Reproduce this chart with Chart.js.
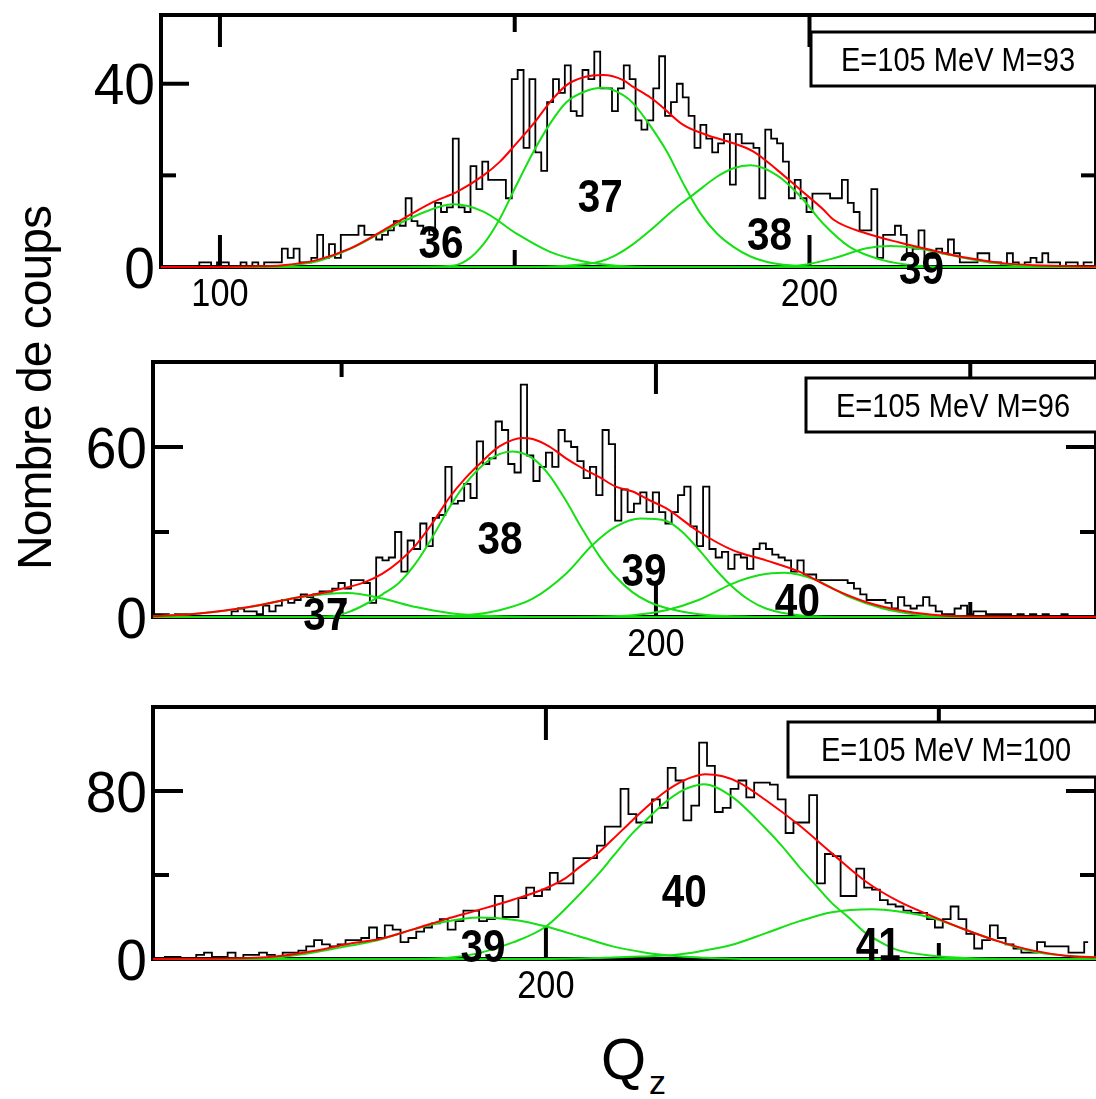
<!DOCTYPE html>
<html>
<head>
<meta charset="utf-8">
<script src="https://cdn.jsdelivr.net/npm/chart.js@4.4.1/dist/chart.umd.min.js"></script>
<style>
  html, body { margin: 0; padding: 0; background: #fff; }
  body { width: 1096px; height: 1099px; position: relative; overflow: hidden;
         font-family: "Liberation Sans", Arial, sans-serif; color: #000; }
  canvas { position: absolute; left: 0; }
  #ytitle { position: absolute; left: -165px; top: 364px; width: 400px; height: 48px;
            line-height: 48px; font-size: 48px; text-align: center; letter-spacing: -1px;
            transform: rotate(-90deg); white-space: nowrap; }
  #qz { position: absolute; left: 601px; top: 1030px; font-size: 58px; line-height: 58px; }
  #qz sub { position: absolute; left: 48px; top: 35px; font-size: 34px; line-height: 34px; }
</style>
</head>
<body>
<canvas id="c1" width="1096" height="330" style="top:0px"></canvas>
<canvas id="c2" width="1096" height="340" style="top:340px"></canvas>
<canvas id="c3" width="1096" height="340" style="top:680px"></canvas>
<div id="ytitle">Nombre de coups</div>
<div id="qz">Q<sub>z</sub></div>
<script>
// --- data -----------------------------------------------------------------
// histogram counts, one bin per unit of Qz, first bin centred on the start value
const q1Start = 90;
const counts1 = [
  0,0,0,0,0,0,0,1,1,0,
  1,1,0,0,1,0,1,0,1,1,
  1,4,2,4,1,1,2,7,2,5,
  2,7,7,7,9,7,7,6,7,8,
  10,9,15,10,9,8,7,14,12,13,
  28,13,12,22,17,23,19,19,19,15,
  41,43,26,41,25,21,36,41,38,44,
  34,33,43,41,47,39,39,34,39,44,
  41,32,30,32,39,46,33,36,40,37,
  33,26,31,28,25,27,29,18,29,27,
  27,26,15,30,28,27,23,15,19,15,
  12,16,16,16,15,15,19,14,12,8,
  8,17,2,7,7,9,7,3,4,8,
  2,2,4,3,6,3,1,1,1,3,
  3,1,1,0,3,1,0,1,2,1,
  3,1,1,0,1,1,0,1,1
];
const q2Start = 120;
const counts2 = [
  1,1,1,0,1,1,0,0,0,0,
  0,0,0,2,3,2,2,1,4,2,
  4,6,5,6,8,7,8,9,9,10,
  12,10,13,13,12,5,21,20,21,30,
  16,27,24,33,25,35,36,53,40,41,
  47,42,62,54,56,69,66,54,51,82,
  57,48,53,58,53,66,62,60,55,49,
  53,43,66,61,34,45,37,40,44,37,
  44,37,33,37,43,46,32,25,46,24,
  21,23,17,22,21,17,24,26,24,22,
  21,20,16,20,15,15,13,13,13,13,
  13,12,10,8,6,6,6,5,3,7,
  4,3,4,7,4,2,1,1,3,4,
  1,2,2,1,1,1,1,0,1,0,
  1,0,1,0,0,1,0,0,0,0
];
const q3Start = 150;
const counts3 = [
  0,0,1,1,0,0,2,3,1,1,
  3,0,2,2,3,2,1,3,3,4,
  6,9,7,6,7,9,9,10,15,10,
  16,14,8,10,13,15,17,19,14,18,
  23,23,18,19,30,20,20,29,34,30,
  33,41,36,36,48,48,48,54,63,63,
  81,69,65,65,76,72,91,85,66,73,
  103,92,70,72,81,85,77,84,84,83,
  76,60,65,65,78,36,50,49,30,30,
  43,34,33,28,26,25,23,22,22,19,
  15,19,25,19,12,5,9,16,10,7,
  5,3,3,8,6,6,6,3,3,8
];

// fitted curves, sampled off the figure as [Qz, counts]
const fit1Total = [[90,0],[100,0],[105,0.1],[110.7,0.4],[116.4,1.5],[122,4],[127.7,8],[131.7,11],[136.2,14.2],[140.2,16.4],[144.7,20],[147.5,23],[150.3,27],[153.2,31.3],[156,36],[158.8,39.7],[161.7,41.4],[165,41.9],[168.4,40.8],[170.1,39.3],[173,37],[174.7,35.3],[178.6,31],[182.6,28.8],[187.1,27],[190.5,25.2],[194.5,21.2],[198.5,16.8],[202.3,12.6],[204.1,10.3],[209.7,7.3],[215.4,5.3],[221,3.6],[226.7,2],[232.4,0.9],[238,0.4],[248.6,0.1]];
const fit1Z36 = [[90,0],[105,0],[110.7,0.3],[116.4,1.2],[122,3.9],[127.7,7.7],[133.4,11.3],[139.6,13.7],[144.7,12.1],[150.3,7.3],[156,3.3],[161.7,1.2],[167.3,0.3],[175,0],[248.6,0]];
const fit1Z37 = [[90,0],[130,0],[139,0.2],[141.9,1.5],[144.7,5],[147.5,10.6],[150.3,17.9],[153.2,25.2],[156,31.3],[158.8,36],[161.7,38.2],[165,39.1],[168.4,37.5],[170.1,35.7],[173,30.8],[175.8,25.2],[178.6,18.2],[181.5,11.7],[184.3,7.3],[187.1,4.4],[190,2.3],[193.9,0.8],[198.5,0.2],[205,0],[248.6,0]];
const fit1Z38 = [[90,0],[150,0],[158.8,0.3],[164.5,1.2],[167,2.5],[170.1,5],[173,8],[175.8,11.2],[178,13.6],[180.3,15.8],[184.3,19.7],[187,21.5],[190,22.2],[194.5,20],[198.4,15.5],[202.3,9.5],[206.8,4.4],[212.4,1.5],[218,0.3],[225,0],[248.6,0]];
const fit1Z39 = [[90,0],[190,0],[198.5,0.4],[204.1,1.9],[209.7,4.1],[213.7,4.6],[218.2,4.1],[223.9,2.6],[229.5,1.2],[235.2,0.4],[243.7,0],[248.6,0]];

const fit2Total = [[120,0.3],[127.3,1.2],[135.2,3.5],[143.2,7],[148.5,9.2],[153.8,12.4],[156.5,15.3],[159.1,19.5],[161.8,25.4],[164.4,33],[167.1,42],[169.7,49],[172.4,55],[175.1,60.2],[178.8,63.2],[180.4,62.8],[183,60.2],[185.7,56],[188.3,52.5],[191,49.4],[193.6,46],[196.3,44.3],[198.9,41.3],[201.6,38.4],[206.9,30],[212.2,23.6],[217.5,20],[222.8,16],[228.1,10],[233.4,5.3],[238.7,2.4],[244,0.8],[249.4,0.2],[270,0]];
const fit2Z37 = [[120,0.3],[127.3,1.2],[135.2,3.4],[143.2,7],[151,8.5],[156.5,6.5],[161.8,3.5],[167.1,1.4],[171.3,0.6],[180,0],[270,0]];
const fit2Z38 = [[120,0],[140,0],[148.5,0.3],[151.2,1.8],[153.8,4.5],[156.5,8],[159.1,12],[161.8,19],[164.4,28],[167.1,38.5],[169.7,47],[172.4,53.5],[175.1,57.5],[177.2,58.4],[180.4,56],[183,50.2],[185.7,41],[188.3,31],[191,21.5],[193.6,14.2],[196.3,8.7],[198.9,5.3],[201.6,3.2],[206.9,1],[212.2,0.3],[220,0],[270,0]];
const fit2Z39 = [[120,0],[160,0],[169.7,0.6],[175.1,2.4],[180.4,6.5],[185.7,15.3],[189.9,25.4],[193.6,31.9],[197.6,34.8],[201.6,34],[204.2,30],[206.9,23.6],[209.6,16.5],[212.2,10.6],[214.9,5.9],[217.5,3],[222.8,0.6],[230,0],[270,0]];
const fit2Z40 = [[120,0],[185,0],[196.3,0.6],[201.6,2.4],[206.9,6.1],[212.2,11.8],[216.5,14.8],[220.5,15.6],[225.5,13],[230.8,7],[236.1,3],[241.4,0.9],[246.7,0.2],[255,0],[270,0]];

const fit3Total = [[150,0],[162.3,0.5],[166.5,1.6],[170.8,4],[175,7.3],[178.8,9.5],[183,14],[187.3,19],[191.5,23.4],[195.8,28.2],[200,33.7],[202.5,38.5],[204.2,43.5],[206.8,51],[208.5,57],[211,66],[213,73],[215.3,80],[217,84],[218.5,86.5],[220.3,88],[222.5,87],[224.6,84],[228,75.6],[232.2,63.8],[236.4,50.3],[240.7,36.9],[244.9,27.4],[249.2,20.3],[253.4,13.9],[257.6,8.4],[261.9,4.1],[266.1,1.6],[270,0.8]];
const fit3Z39 = [[150,0],[160,0],[162.3,0.2],[166.5,1],[170.8,3.3],[175,6.3],[178.8,9.2],[183,14],[187.3,17.9],[191.5,19.8],[195.8,18.7],[200,15.5],[204.2,10.8],[208.5,6],[212.7,3],[216.9,1.3],[220,0.6],[225,0],[270,0]];
const fit3Z40 = [[150,0],[180,0],[187.3,0.5],[191.5,2.8],[195.8,7.9],[200,15.5],[204.2,30.5],[206.8,41],[208.5,48.7],[211,59.8],[212.7,66],[215.3,75],[217,79.5],[218.5,82],[220.1,83.2],[223.7,77.2],[228,62],[230.1,53.5],[232.2,44],[234.3,35.3],[236.4,26.6],[238.6,19.5],[240.7,12.3],[242.8,7.6],[244.9,4.1],[249.2,1.6],[253.4,0.5],[260,0],[270,0]];
const fit3Z41 = [[150,0],[200,0],[206.8,0.5],[212,1.2],[216.5,2],[219.5,3.6],[223.7,6.8],[228,12.3],[232.2,17.9],[236.4,22.3],[241.5,23.7],[244.9,22.6],[249.2,19.5],[253.4,13.9],[257.6,8.4],[261.9,3.6],[266.1,1.6],[270,0.8]];

// texts
const runs = ['E=105 MeV M=93', 'E=105 MeV M=96', 'E=105 MeV M=100'];
const peaks1 = ['36', '37', '38', '39'];
const peaks2 = ['37', '38', '39', '40'];
const peaks3 = ['39', '40', '41'];
const xLabels1 = [100, 200], yLabels1 = [0, 40];
const xLabels2 = [200], yLabels2 = [0, 60];
const xLabels3 = [200], yLabels3 = [0, 80];

// --- drawing -----------------------------------------------------------------
const RED = '#ff0000';
const GREEN = '#14e014';
const FONT = '"Liberation Sans", Arial, sans-serif';

function toXY(pts) { return pts.map(p => ({x: p[0], y: p[1]})); }
function binsToXY(start, counts) { return counts.map((c, i) => ({x: start + i, y: c})); }

// text centred vertically on yc, squeezed horizontally like the original lettering
function txt(ctx, s, x, yc, size, bold, align, sx) {
  ctx.save();
  ctx.font = (bold ? 'bold ' : '') + size + 'px ' + FONT;
  ctx.textAlign = align;
  ctx.textBaseline = 'alphabetic';
  ctx.fillStyle = '#000';
  ctx.translate(x, yc + size * 0.358);
  ctx.scale(sx, 1);
  ctx.fillText(s, 0, 0);
  ctx.restore();
}

const decor = {
  id: 'decor',
  beforeDatasetsDraw(chart, args, o) {
    const {ctx, chartArea: a, scales: {x, y}} = chart;
    ctx.save();
    ctx.strokeStyle = '#000';
    ctx.lineWidth = 4;
    ctx.strokeRect(a.left, a.top, a.right - a.left, a.bottom - a.top);
    const seg = (x0, y0, x1, y1) => { ctx.beginPath(); ctx.moveTo(x0, y0); ctx.lineTo(x1, y1); ctx.stroke(); };
    o.xTicks.forEach(([v, len]) => {
      const px = x.getPixelForValue(v);
      seg(px, a.top, px, a.top + len);
      seg(px, a.bottom, px, a.bottom - len);
    });
    o.yTicks.forEach(([v, len]) => {
      const py = y.getPixelForValue(v);
      seg(a.left, py, a.left + len, py);
      seg(a.right, py, a.right - len, py);
    });
    ctx.restore();
  },
  afterDatasetsDraw(chart, args, o) {
    const {ctx, chartArea: a, scales: {x, y}} = chart;
    o.xLabels.forEach(v => txt(ctx, String(v), x.getPixelForValue(v), a.bottom + 25, 39, false, 'center', 0.88));
    o.yLabels.forEach(v => txt(ctx, String(v), a.left - 6, y.getPixelForValue(v), 58, false, 'right', 0.95));
    o.peaks.forEach((s, i) => {
      const [q, n] = o.peakAt[i];
      txt(ctx, s, x.getPixelForValue(q), y.getPixelForValue(n), 46, true, 'center', 0.88);
    });
    const b = o.box;
    ctx.save();
    ctx.fillStyle = '#fff';
    ctx.strokeStyle = '#000';
    ctx.lineWidth = 3;
    ctx.fillRect(b.left, a.top + b.top, a.right + 4 - b.left, b.h);
    ctx.strokeRect(b.left, a.top + b.top, a.right + 4 - b.left, b.h);
    ctx.restore();
    txt(ctx, o.legend, b.textX, a.top + b.top + b.h / 2, 33, false, 'center', 0.88);
  }
};

function panel(id, cfg) {
  const line = (pts, color) => ({
    data: toXY(pts), borderColor: color, borderWidth: 2,
    cubicInterpolationMode: 'monotone', clip: 6
  });
  const datasets = [line(cfg.total, RED)]
    .concat(cfg.parts.map(p => line(p, GREEN)))
    .concat([{
      data: binsToXY(cfg.start, cfg.counts), borderColor: '#000', borderWidth: 1.8,
      stepped: 'middle', clip: 6
    }]);
  new Chart(document.getElementById(id), {
    type: 'line',
    data: {datasets},
    options: {
      responsive: false,
      animation: false,
      events: [],
      layout: {padding: cfg.pad},
      elements: {point: {radius: 0}, line: {fill: false}},
      scales: {
        x: {type: 'linear', min: cfg.xMin, max: cfg.xMax, display: false},
        y: {type: 'linear', min: 0, max: cfg.yMax, display: false}
      },
      plugins: {
        legend: {display: false},
        tooltip: {enabled: false},
        decor: {
          xTicks: cfg.xTicks, yTicks: cfg.yTicks,
          xLabels: cfg.xLabels, yLabels: cfg.yLabels,
          peaks: cfg.peaks, peakAt: cfg.peakAt,
          legend: cfg.legend, box: cfg.box
        }
      }
    },
    plugins: [decor]
  });
}

panel('c1', {
  start: q1Start, counts: counts1, total: fit1Total,
  parts: [fit1Z36, fit1Z37, fit1Z38, fit1Z39],
  xMin: 90, xMax: 248.6, yMax: 55,
  pad: {left: 161, top: 15, right: 0, bottom: 63},
  xTicks: [[100, 32], [150, 17], [200, 32]], yTicks: [[20, 15], [40, 28]],
  xLabels: xLabels1, yLabels: yLabels1,
  peaks: peaks1, peakAt: [[137.5, 5.5], [164.5, 15.7], [193.2, 7.4], [219, -0.2]],
  legend: runs[0], box: {left: 811, top: 17, h: 54, textX: 958}
});
panel('c2', {
  start: q2Start, counts: counts2, total: fit2Total,
  parts: [fit2Z37, fit2Z38, fit2Z39, fit2Z40],
  xMin: 120, xMax: 270, yMax: 90,
  pad: {left: 153, top: 22, right: 0, bottom: 63},
  xTicks: [[150, 15], [200, 32], [250, 15]], yTicks: [[30, 16], [60, 30]],
  xLabels: xLabels2, yLabels: yLabels2,
  peaks: peaks2, peakAt: [[147.5, 1.3], [175.2, 27.9], [198.1, 16.9], [222.5, 6.3]],
  legend: runs[1], box: {left: 806, top: 16, h: 54, textX: 953}
});
panel('c3', {
  start: q3Start, counts: counts3, total: fit3Total,
  parts: [fit3Z39, fit3Z40, fit3Z41],
  xMin: 150, xMax: 270, yMax: 120,
  pad: {left: 153, top: 27, right: 0, bottom: 61},
  xTicks: [[200, 33], [250, 16]], yTicks: [[40, 16], [80, 30]],
  xLabels: xLabels3, yLabels: yLabels3,
  peaks: peaks3, peakAt: [[192, 6.3], [217.6, 32.5], [242.3, 7.3]],
  legend: runs[2], box: {left: 788, top: 15, h: 55, textX: 946}
});
</script>
</body>
</html>
